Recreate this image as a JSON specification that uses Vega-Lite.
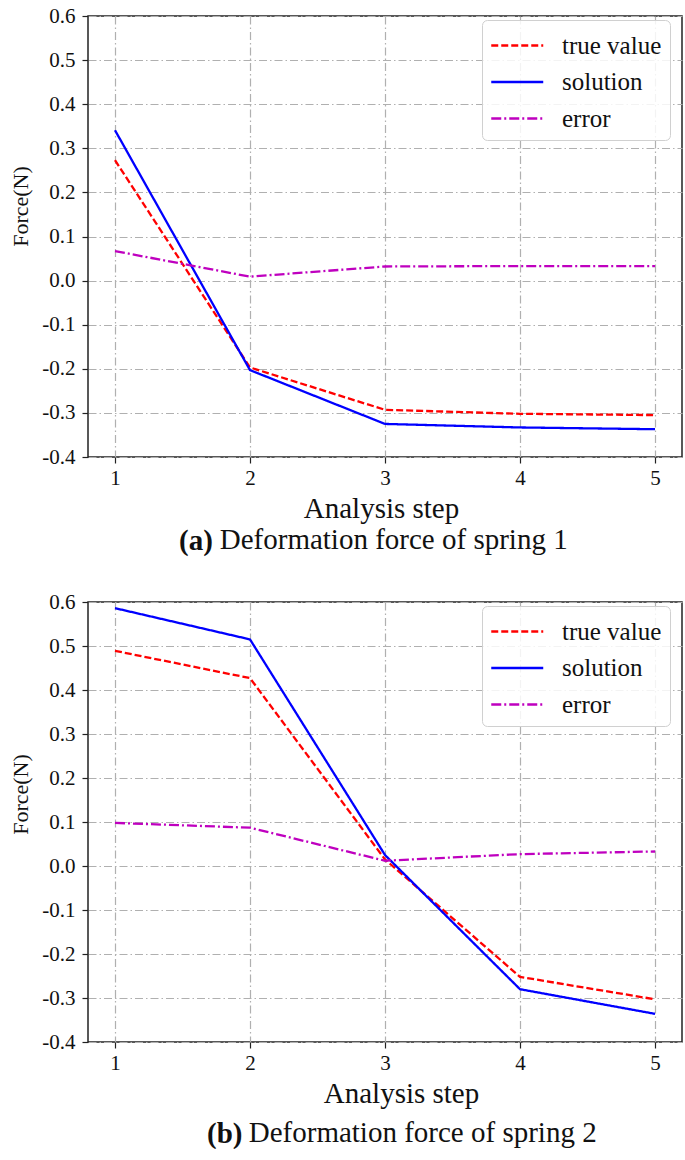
{
  "$schema": "https://vega.github.io/schema/vega-lite/v6.json",
  "autosize": {"type": "pad"},
  "padding": {"left": 9, "top": 4, "right": 0, "bottom": 0},
  "background": "white",
  "spacing": 34,
  "config": {
    "font": "Liberation Serif",
    "view": {"stroke": "#222", "strokeWidth": 1.5},
    "axis": {
      "labelFont": "Liberation Serif", "labelFontSize": 21, "labelColor": "#111",
      "titleFont": "Liberation Serif", "titleFontSize": 29, "titleFontWeight": "normal", "titleColor": "#111",
      "tickColor": "#222", "tickSize": 6, "tickWidth": 1.2,
      "domain": false,
      "grid": true, "gridColor": "#b0b0b0", "gridWidth": 1.2, "gridDash": [8, 3, 1.5, 3]
    },
    "legend": {
      "orient": "none", "legendX": 394, "legendY": 4, "padding": 8,
      "strokeColor": "#d0d0d0", "fillColor": "rgba(255,255,255,0.85)", "cornerRadius": 5,
      "labelFont": "Liberation Serif", "labelFontSize": 25, "labelColor": "#111",
      "symbolType": "M-1,0H2.2", "symbolSize": 1056, "symbolStrokeWidth": 2.5,
      "labelOffset": 37, "rowPadding": 5.5
    },
    "title": {"font": "Liberation Serif", "fontSize": 29, "fontWeight": "normal", "color": "#111"}
  },
  "datasets": {
    "a": [
      {"step": 1, "series": "true value", "force": 0.273},
      {"step": 2, "series": "true value", "force": -0.197},
      {"step": 3, "series": "true value", "force": -0.293},
      {"step": 4, "series": "true value", "force": -0.302},
      {"step": 5, "series": "true value", "force": -0.305},
      {"step": 1, "series": "solution", "force": 0.341},
      {"step": 2, "series": "solution", "force": -0.203},
      {"step": 3, "series": "solution", "force": -0.325},
      {"step": 4, "series": "solution", "force": -0.333},
      {"step": 5, "series": "solution", "force": -0.337},
      {"step": 1, "series": "error", "force": 0.067},
      {"step": 2, "series": "error", "force": 0.009},
      {"step": 3, "series": "error", "force": 0.032},
      {"step": 4, "series": "error", "force": 0.033},
      {"step": 5, "series": "error", "force": 0.033}
    ],
    "b": [
      {"step": 1, "series": "true value", "force": 0.489},
      {"step": 2, "series": "true value", "force": 0.427},
      {"step": 3, "series": "true value", "force": 0.015},
      {"step": 4, "series": "true value", "force": -0.252},
      {"step": 5, "series": "true value", "force": -0.303},
      {"step": 1, "series": "solution", "force": 0.586},
      {"step": 2, "series": "solution", "force": 0.515},
      {"step": 3, "series": "solution", "force": 0.025},
      {"step": 4, "series": "solution", "force": -0.280},
      {"step": 5, "series": "solution", "force": -0.336},
      {"step": 1, "series": "error", "force": 0.098},
      {"step": 2, "series": "error", "force": 0.087},
      {"step": 3, "series": "error", "force": 0.012},
      {"step": 4, "series": "error", "force": 0.027},
      {"step": 5, "series": "error", "force": 0.033}
    ]
  },
  "vconcat": [
    {
      "title": {"text": "(a)", "orient": "bottom", "anchor": "start", "frame": "bounds", "fontWeight": "bold", "dx": 170, "dy": -29, "offset": 0},
      "resolve": {"legend": {"color": "independent", "strokeDash": "independent"}},
      "vconcat": [
        {
          "title": {"text": "Deformation force of spring 1", "orient": "bottom", "anchor": "start", "frame": "bounds", "dx": 210, "offset": 3},
          "width": 594, "height": 441,
          "data": {"name": "a"},
          "mark": {"type": "line", "strokeWidth": 2.3},
          "encoding": {
            "x": {"field": "step", "type": "quantitative", "scale": {"domain": [0.8, 5.2], "nice": false},
                  "axis": {"title": "Analysis step", "values": [1, 2, 3, 4, 5], "format": "d", "labelPadding": 4, "titlePadding": 6, "titleX": 293}},
            "y": {"field": "force", "type": "quantitative", "scale": {"domain": [-0.4, 0.6], "nice": false},
                  "axis": {"title": "Force(N)", "titleFontSize": 22, "titleY": 190, "values": [-0.4, -0.3, -0.2, -0.1, 0, 0.1, 0.2, 0.3, 0.4, 0.5, 0.6],
                           "labelExpr": "replace(format(datum.value, '.1f'), '\u2212', '-')", "labelPadding": 7, "titlePadding": 9}},
            "color": {"field": "series", "type": "nominal",
                      "scale": {"domain": ["true value", "solution", "error"], "range": ["#ff0000", "#0000ff", "#bf00bf"]},
                      "legend": {"title": null}},
            "strokeDash": {"field": "series", "type": "nominal",
                      "scale": {"domain": ["true value", "solution", "error"], "range": [[7, 3], [1, 0], [10, 3, 2, 3]]},
                      "legend": {"title": null}}
          }
        }
      ]
    },
    {
      "title": {"text": "(b)", "orient": "bottom", "anchor": "start", "frame": "bounds", "fontWeight": "bold", "dx": 198, "dy": -29, "offset": 0},
      "resolve": {"legend": {"color": "independent", "strokeDash": "independent"}},
      "vconcat": [
        {
          "title": {"text": "Deformation force of spring 2", "orient": "bottom", "anchor": "start", "frame": "bounds", "dx": 239, "offset": 11},
          "width": 594, "height": 440,
          "data": {"name": "b"},
          "mark": {"type": "line", "strokeWidth": 2.3},
          "encoding": {
            "x": {"field": "step", "type": "quantitative", "scale": {"domain": [0.8, 5.2], "nice": false},
                  "axis": {"title": "Analysis step", "values": [1, 2, 3, 4, 5], "format": "d", "labelPadding": 4, "titlePadding": 6, "titleX": 313}},
            "y": {"field": "force", "type": "quantitative", "scale": {"domain": [-0.4, 0.6], "nice": false},
                  "axis": {"title": "Force(N)", "titleFontSize": 22, "titleY": 192, "values": [-0.4, -0.3, -0.2, -0.1, 0, 0.1, 0.2, 0.3, 0.4, 0.5, 0.6],
                           "labelExpr": "replace(format(datum.value, '.1f'), '\u2212', '-')", "labelPadding": 7, "titlePadding": 9}},
            "color": {"field": "series", "type": "nominal",
                      "scale": {"domain": ["true value", "solution", "error"], "range": ["#ff0000", "#0000ff", "#bf00bf"]},
                      "legend": {"title": null}},
            "strokeDash": {"field": "series", "type": "nominal",
                      "scale": {"domain": ["true value", "solution", "error"], "range": [[7, 3], [1, 0], [10, 3, 2, 3]]},
                      "legend": {"title": null}}
          }
        }
      ]
    }
  ],
  "resolve": {"legend": {"color": "independent", "strokeDash": "independent"}}
}
